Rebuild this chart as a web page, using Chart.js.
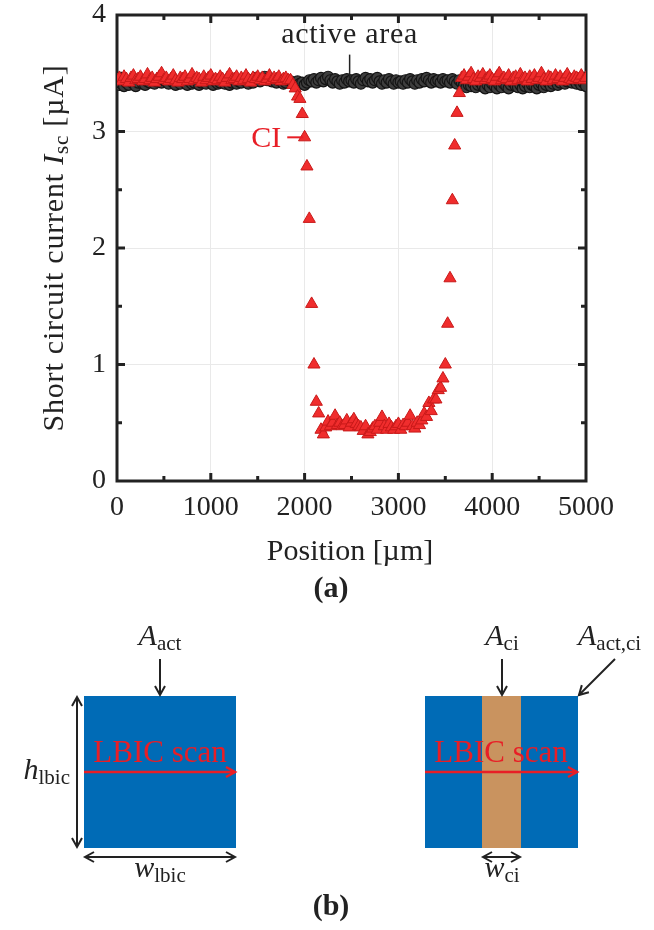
<!DOCTYPE html>
<html>
<head>
<meta charset="utf-8">
<script src="https://cdn.jsdelivr.net/npm/chart.js@4.4.1/dist/chart.umd.min.js"></script>
<style>
  html, body { margin: 0; padding: 0; background: #fff; }
  #wrap { width: 654px; height: 930px; }
</style>
</head>
<body>
<div id="wrap"><canvas id="lbicChart" width="654" height="930"></canvas></div>
<script>
// scan positions [µm]
const positions = [
  0, 25, 50, 75, 100, 125, 150, 175, 200, 225, 250, 275, 300, 325, 350, 375, 400, 425, 450, 475,
  500, 525, 550, 575, 600, 625, 650, 675, 700, 725, 750, 775, 800, 825, 850, 875, 900, 925, 950, 975,
  1000, 1025, 1050, 1075, 1100, 1125, 1150, 1175, 1200, 1225, 1250, 1275, 1300, 1325, 1350, 1375, 1400, 1425, 1450, 1475,
  1500, 1525, 1550, 1575, 1600, 1625, 1650, 1675, 1700, 1725, 1750, 1775, 1800, 1825, 1850, 1875, 1900, 1925, 1950, 1975,
  2000, 2025, 2050, 2075, 2100, 2125, 2150, 2175, 2200, 2225, 2250, 2275, 2300, 2325, 2350, 2375, 2400, 2425, 2450, 2475,
  2500, 2525, 2550, 2575, 2600, 2625, 2650, 2675, 2700, 2725, 2750, 2775, 2800, 2825, 2850, 2875, 2900, 2925, 2950, 2975,
  3000, 3025, 3050, 3075, 3100, 3125, 3150, 3175, 3200, 3225, 3250, 3275, 3300, 3325, 3350, 3375, 3400, 3425, 3450, 3475,
  3500, 3525, 3550, 3575, 3600, 3625, 3650, 3675, 3700, 3725, 3750, 3775, 3800, 3825, 3850, 3875, 3900, 3925, 3950, 3975,
  4000, 4025, 4050, 4075, 4100, 4125, 4150, 4175, 4200, 4225, 4250, 4275, 4300, 4325, 4350, 4375, 4400, 4425, 4450, 4475,
  4500, 4525, 4550, 4575, 4600, 4625, 4650, 4675, 4700, 4725, 4750, 4775, 4800, 4825, 4850, 4875, 4900, 4925, 4950, 4975,
  5000
];

// Isc [µA] across the cell interconnection (CI)
const ciCurrent = [
  3.44, 3.46, 3.43, 3.47, 3.45, 3.42, 3.46, 3.48, 3.44, 3.45, 3.47, 3.43, 3.45, 3.49, 3.44, 3.46, 3.42, 3.45, 3.47, 3.50,
  3.44, 3.46, 3.43, 3.45, 3.48, 3.44, 3.42, 3.46, 3.45, 3.47, 3.43, 3.45, 3.49, 3.44, 3.46, 3.45, 3.42, 3.47, 3.44, 3.46,
  3.48, 3.43, 3.45, 3.44, 3.47, 3.45, 3.42, 3.46, 3.49, 3.44, 3.45, 3.47, 3.43, 3.46, 3.44, 3.48, 3.45, 3.42, 3.46, 3.45,
  3.47, 3.44, 3.46, 3.43, 3.45, 3.48, 3.44, 3.46, 3.45, 3.47, 3.43, 3.45, 3.46, 3.44, 3.44, 3.40, 3.37, 3.30, 3.28, 3.15,
  2.95, 2.70, 2.25, 1.52, 1.00, 0.68, 0.58, 0.44, 0.40, 0.46, 0.51, 0.47, 0.50, 0.56, 0.48, 0.50, 0.47, 0.48, 0.52, 0.46,
  0.50, 0.53, 0.49, 0.47, 0.46, 0.43, 0.47, 0.40, 0.42, 0.45, 0.47, 0.44, 0.50, 0.55, 0.47, 0.44, 0.49, 0.46, 0.44, 0.47,
  0.49, 0.44, 0.48, 0.47, 0.50, 0.56, 0.47, 0.45, 0.50, 0.48, 0.52, 0.58, 0.55, 0.67, 0.60, 0.70, 0.70, 0.78, 0.80, 0.88,
  1.00, 1.35, 1.74, 2.41, 2.88, 3.16, 3.33, 3.46, 3.48, 3.44, 3.47, 3.50, 3.45, 3.43, 3.47, 3.46, 3.49, 3.44, 3.46, 3.48,
  3.45, 3.43, 3.47, 3.50, 3.44, 3.46, 3.45, 3.48, 3.43, 3.46, 3.47, 3.44, 3.49, 3.45, 3.46, 3.43, 3.47, 3.45, 3.48, 3.44,
  3.46, 3.50, 3.45, 3.43, 3.47, 3.46, 3.44, 3.48, 3.45, 3.47, 3.43, 3.46, 3.49, 3.45, 3.44, 3.47, 3.46, 3.45, 3.48, 3.44,
  3.46
];

// Isc [µA] inside the active area
const activeCurrent = [
  3.42, 3.40, 3.41, 3.39, 3.42, 3.40, 3.43, 3.41, 3.39, 3.42, 3.44, 3.41, 3.40, 3.43, 3.42, 3.44, 3.41, 3.43, 3.45, 3.42,
  3.44, 3.43, 3.41, 3.44, 3.42, 3.40, 3.43, 3.41, 3.44, 3.42, 3.40, 3.43, 3.41, 3.42, 3.44, 3.40, 3.42, 3.43, 3.41, 3.44,
  3.42, 3.40, 3.43, 3.41, 3.42, 3.44, 3.41, 3.43, 3.40, 3.42, 3.44, 3.41, 3.43, 3.42, 3.45, 3.43, 3.41, 3.44, 3.42, 3.46,
  3.44, 3.43, 3.45, 3.47, 3.44, 3.46, 3.43, 3.45, 3.42, 3.44, 3.43, 3.41, 3.42, 3.44, 3.43, 3.41, 3.42, 3.43, 3.41, 3.42,
  3.40, 3.42, 3.44, 3.43, 3.45, 3.42, 3.44, 3.46, 3.43, 3.45, 3.47, 3.44, 3.42, 3.45, 3.43, 3.41, 3.44, 3.42, 3.45, 3.43,
  3.44, 3.42, 3.45, 3.43, 3.41, 3.44, 3.46, 3.43, 3.45, 3.42, 3.44, 3.46, 3.43, 3.41, 3.44, 3.42, 3.45, 3.43, 3.41, 3.44,
  3.42, 3.43, 3.41, 3.44, 3.42, 3.45, 3.43, 3.41, 3.44, 3.42, 3.45, 3.43, 3.46, 3.44, 3.42, 3.45, 3.43, 3.44, 3.42, 3.45,
  3.43, 3.44, 3.42, 3.45, 3.43, 3.41, 3.44, 3.42, 3.40, 3.38, 3.40, 3.39, 3.41, 3.38, 3.40, 3.42, 3.39, 3.37, 3.40, 3.38,
  3.41, 3.39, 3.37, 3.40, 3.38, 3.41, 3.39, 3.37, 3.40, 3.42, 3.39, 3.38, 3.40, 3.37, 3.39, 3.41, 3.38, 3.40, 3.39, 3.37,
  3.40, 3.41, 3.38, 3.40, 3.42, 3.39, 3.41, 3.43, 3.40, 3.42, 3.44, 3.41, 3.43, 3.45, 3.42, 3.44, 3.41, 3.43, 3.40, 3.42,
  3.39
];

const xTickLabels = [0, 1000, 2000, 3000, 4000, 5000];
const yTickLabels = [0, 1, 2, 3, 4];

const SERIF = '"Liberation Serif", "DejaVu Serif", serif';
const INK = '#222';
const RED = 'rgb(232, 30, 38)';

// draws text made of parts: [text, kind] kind n=normal i=italic s=subscript b=bold
function richText(ctx, parts, x, y, size, align) {
  const fontFor = k => k === 'i' ? `italic ${size}px ${SERIF}`
    : k === 's' ? `${Math.round(size * 0.7)}px ${SERIF}`
    : k === 'b' ? `bold ${size}px ${SERIF}` : `${size}px ${SERIF}`;
  let total = 0;
  const widths = parts.map(([t, k]) => {
    ctx.font = fontFor(k);
    const w = ctx.measureText(t).width;
    total += w;
    return w;
  });
  let cx = align === 'center' ? x - total / 2 : align === 'right' ? x - total : x;
  ctx.textAlign = 'left';
  ctx.textBaseline = 'alphabetic';
  parts.forEach(([t, k], i) => {
    ctx.font = fontFor(k);
    ctx.fillText(t, cx, k === 's' ? y + size * 0.18 : y);
    cx += widths[i];
  });
}

function arrowHead(ctx, x0, y0, x1, y1, len, half) {
  const a = Math.atan2(y1 - y0, x1 - x0);
  ctx.beginPath();
  ctx.moveTo(x1 - len * Math.cos(a) + half * Math.sin(a), y1 - len * Math.sin(a) - half * Math.cos(a));
  ctx.lineTo(x1, y1);
  ctx.lineTo(x1 - len * Math.cos(a) - half * Math.sin(a), y1 - len * Math.sin(a) + half * Math.cos(a));
  ctx.stroke();
}

function arrow(ctx, x0, y0, x1, y1, both) {
  ctx.beginPath();
  ctx.moveTo(x0, y0);
  ctx.lineTo(x1, y1);
  ctx.stroke();
  arrowHead(ctx, x0, y0, x1, y1, 9, 5);
  if (both) arrowHead(ctx, x1, y1, x0, y0, 9, 5);
}

// box frame with inward ticks, drawn from the scales' own ticks
const framePlugin = {
  id: 'frame',
  beforeDatasetsDraw(chart) {
    const { ctx, chartArea: a, scales: { x, y } } = chart;
    ctx.save();
    ctx.strokeStyle = INK;
    ctx.lineWidth = 3;
    ctx.lineCap = 'butt';
    ctx.beginPath();
    x.ticks.forEach(t => {
      if (t.value <= x.min || t.value >= x.max) return;
      const px = x.getPixelForValue(t.value);
      const len = xTickLabels.includes(t.value) ? 8 : 5;
      ctx.moveTo(px, a.bottom); ctx.lineTo(px, a.bottom - len);
      ctx.moveTo(px, a.top); ctx.lineTo(px, a.top + len);
    });
    y.ticks.forEach(t => {
      if (t.value <= y.min || t.value >= y.max) return;
      const py = y.getPixelForValue(t.value);
      const len = yTickLabels.includes(t.value) ? 8 : 5;
      ctx.moveTo(a.left, py); ctx.lineTo(a.left + len, py);
      ctx.moveTo(a.right, py); ctx.lineTo(a.right - len, py);
    });
    ctx.stroke();
    ctx.strokeRect(a.left, a.top, a.right - a.left, a.bottom - a.top);
    ctx.restore();
  }
};

// axis titles, annotations and panel (b) sketch
const textPlugin = {
  id: 'texts',
  afterDraw(chart) {
    const { ctx, chartArea: a, scales: { x, y } } = chart;
    ctx.save();
    ctx.fillStyle = INK;

    // y title
    ctx.save();
    ctx.letterSpacing = '0.8px';
    ctx.translate(63, (a.top + a.bottom) / 2);
    ctx.rotate(-Math.PI / 2);
    richText(ctx, [['Short circuit current ', 'n'], ['I', 'i'], ['sc', 's'], [' [µA]', 'n']], 0, 0, 30, 'center');
    ctx.restore();

    // x title
    richText(ctx, [['Position [µm]', 'n']], 350, 560, 30, 'center');
    richText(ctx, [['(a)', 'b']], 331, 597, 30, 'center');

    // annotation: active area
    ctx.save();
    ctx.letterSpacing = '0.7px';
    richText(ctx, [['active area', 'n']], x.getPixelForValue(2480), y.getPixelForValue(3.76), 30, 'center');
    ctx.restore();
    ctx.strokeStyle = INK;
    ctx.lineWidth = 1.5;
    ctx.beginPath();
    ctx.moveTo(x.getPixelForValue(2480), y.getPixelForValue(3.66));
    ctx.lineTo(x.getPixelForValue(2480), y.getPixelForValue(3.46));
    ctx.stroke();

    // annotation: CI
    ctx.fillStyle = RED;
    ctx.strokeStyle = RED;
    richText(ctx, [['CI', 'n']], x.getPixelForValue(1590), y.getPixelForValue(2.87), 30, 'center');
    ctx.lineWidth = 2;
    ctx.beginPath();
    ctx.moveTo(x.getPixelForValue(1815), y.getPixelForValue(2.95));
    ctx.lineTo(x.getPixelForValue(1985), y.getPixelForValue(2.95));
    ctx.stroke();

    // panel (b): sketch of the LBIC scan over the two areas
    const top = 696, bot = 848;
    ctx.fillStyle = '#006bb6';
    ctx.fillRect(84, top, 152, bot - top);
    ctx.fillRect(425, top, 153, bot - top);
    ctx.fillStyle = '#c9935f';
    ctx.fillRect(482, top, 39, bot - top);

    ctx.strokeStyle = RED;
    ctx.fillStyle = RED;
    ctx.lineWidth = 2.5;
    arrow(ctx, 84, 772, 235, 772, false);
    arrow(ctx, 425, 772, 577, 772, false);
    richText(ctx, [['LBIC scan', 'n']], 160, 762, 31, 'center');
    richText(ctx, [['LBIC scan', 'n']], 501, 762, 31, 'center');

    ctx.strokeStyle = INK;
    ctx.fillStyle = INK;
    ctx.lineWidth = 2;
    arrow(ctx, 77, 697, 77, 847, true);
    arrow(ctx, 85, 857, 235, 857, true);
    arrow(ctx, 160, 659, 160, 695, false);
    arrow(ctx, 502, 659, 502, 695, false);
    arrow(ctx, 483, 857, 520, 857, true);
    arrow(ctx, 615, 659, 579, 695, false);

    richText(ctx, [['A', 'i'], ['act', 's']], 160, 645, 30, 'center');
    richText(ctx, [['A', 'i'], ['ci', 's']], 502, 645, 30, 'center');
    richText(ctx, [['A', 'i'], ['act,ci', 's']], 578, 645, 30, 'left');
    richText(ctx, [['h', 'i'], ['lbic', 's']], 70, 779, 30, 'right');
    richText(ctx, [['w', 'i'], ['lbic', 's']], 160, 877, 30, 'center');
    richText(ctx, [['w', 'i'], ['ci', 's']], 502, 877, 30, 'center');
    richText(ctx, [['(b)', 'b']], 331, 915, 30, 'center');
    ctx.restore();
  }
};

const ctx = document.getElementById('lbicChart').getContext('2d');
const chart = new Chart(ctx, {
  type: 'scatter',
  data: {
    datasets: [
      {
        label: 'CI',
        data: positions.map((p, i) => ({ x: p, y: ciCurrent[i] })),
        pointStyle: 'triangle',
        pointRadius: 7,
        backgroundColor: 'rgb(240, 45, 45)',
        borderColor: 'rgb(200, 25, 25)',
        borderWidth: 1
      },
      {
        label: 'active area',
        data: positions.map((p, i) => ({ x: p, y: activeCurrent[i] })),
        pointStyle: 'circle',
        pointRadius: 5.5,
        backgroundColor: '#3e3e3e',
        borderColor: '#141414',
        borderWidth: 1.2
      }
    ]
  },
  options: {
    responsive: false,
    animation: false,
    events: [],
    layout: { padding: { left: 0, right: 68, top: 15, bottom: 349 } },
    plugins: { legend: { display: false }, tooltip: { enabled: false } },
    scales: {
      x: {
        type: 'linear',
        min: 0,
        max: 5000,
        afterFit: s => { s.height = 100; s.paddingLeft = 0; s.paddingRight = 0; },
        border: { display: false },
        grid: {
          drawTicks: false,
          lineWidth: 1,
          color: c => (c.tick && xTickLabels.includes(c.tick.value) && c.tick.value > 0 && c.tick.value < 5000) ? '#e9e9e9' : 'rgba(0,0,0,0)'
        },
        ticks: {
          stepSize: 500,
          autoSkip: false,
          maxRotation: 0,
          padding: 10,
          color: INK,
          font: { family: SERIF, size: 28 },
          callback: v => xTickLabels.includes(v) ? String(v) : ''
        }
      },
      y: {
        min: 0,
        max: 4,
        afterFit: s => { s.width = 117; s.paddingTop = 0; s.paddingBottom = 0; },
        border: { display: false },
        grid: {
          drawTicks: false,
          lineWidth: 1,
          color: c => (c.tick && yTickLabels.includes(c.tick.value) && c.tick.value > 0 && c.tick.value < 4) ? '#e9e9e9' : 'rgba(0,0,0,0)'
        },
        ticks: {
          stepSize: 0.5,
          autoSkip: false,
          padding: 11,
          color: INK,
          font: { family: SERIF, size: 28 },
          callback: v => yTickLabels.includes(v) ? String(v) : ''
        }
      }
    }
  },
  plugins: [framePlugin, textPlugin]
});
</script>
</body>
</html>
